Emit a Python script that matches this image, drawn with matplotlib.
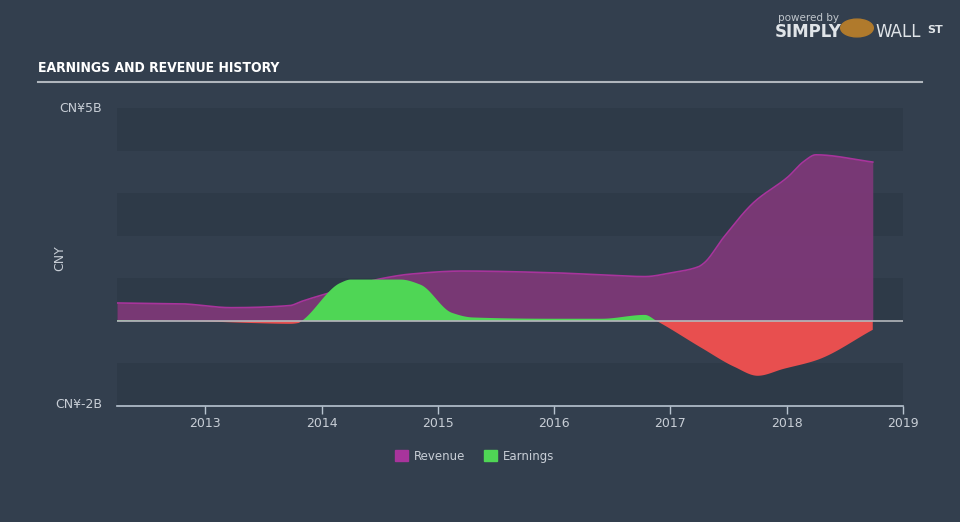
import numpy as np
import matplotlib
matplotlib.use("Agg")
import matplotlib.pyplot as plt
from matplotlib.patches import Patch, Circle

# data (values in CNY billions)
rev_dates = [2012.24, 2012.79, 2013.22, 2013.73, 2013.82, 2014.16, 2014.51, 2014.77,
             2015.21, 2015.98, 2016.41, 2016.78, 2017.01, 2017.24, 2017.29, 2017.46,
             2017.72, 2018.01, 2018.15, 2018.25, 2018.74]
revenue = [0.42, 0.40, 0.31, 0.36, 0.45, 0.73, 0.99, 1.10,
           1.17, 1.13, 1.08, 1.04, 1.13, 1.27, 1.36, 1.97,
           2.79, 3.38, 3.75, 3.90, 3.73]

earn_dates = [2012.24, 2012.95, 2013.39, 2013.73, 2013.80, 2013.83, 2014.16, 2014.25,
              2014.68, 2014.85, 2015.12, 2015.30, 2016.00, 2016.41, 2016.78, 2016.88,
              2017.27, 2017.55, 2017.75, 2017.97, 2018.26, 2018.74]
earnings = [0.02, -0.01, -0.05, -0.07, -0.05, 0.0, 0.89, 0.97,
            0.97, 0.85, 0.19, 0.08, 0.05, 0.05, 0.14, 0.0,
            -0.64, -1.08, -1.29, -1.13, -0.92, -0.21]

year_ticks = [2013, 2014, 2015, 2016, 2017, 2018, 2019]

BG = "#333f4e"
BAND = "#2e3a48"
TXT = "#c8ced6"


def pchip(x, y, xs):
    """Monotone cubic curve through the points (for a smooth outline)."""
    x = np.asarray(x, float)
    y = np.asarray(y, float)
    h = np.diff(x)
    d = np.diff(y) / h
    m = np.zeros_like(y)
    for k in range(1, len(y) - 1):
        if d[k - 1] * d[k] > 0:
            w1 = 2 * h[k] + h[k - 1]
            w2 = h[k] + 2 * h[k - 1]
            m[k] = (w1 + w2) / (w1 / d[k - 1] + w2 / d[k])
    m[0] = d[0]
    m[-1] = d[-1]
    idx = np.clip(np.searchsorted(x, xs) - 1, 0, len(h) - 1)
    t = (xs - x[idx]) / h[idx]
    h00 = 2 * t**3 - 3 * t**2 + 1
    h10 = t**3 - 2 * t**2 + t
    h01 = -2 * t**3 + 3 * t**2
    h11 = t**3 - t**2
    return (h00 * y[idx] + h10 * h[idx] * m[idx] + h01 * y[idx + 1]
            + h11 * h[idx] * m[idx + 1])


fig = plt.figure(figsize=(9.6, 5.22), dpi=100, facecolor=BG)
ax = fig.add_axes([117 / 960, 116 / 522, 786 / 960, 298 / 522])
ax.set_facecolor(BG)

for lo in (4, 2, 0, -2):
    ax.axhspan(lo, lo + 1, color=BAND, lw=0, zorder=0)

t = np.linspace(rev_dates[0], rev_dates[-1], 1200)
r = pchip(rev_dates, revenue, t)
e = pchip(earn_dates, earnings, t)

ax.fill_between(t, 0, r, color="#7a3876", alpha=0.98, lw=0, zorder=2)
ax.plot(t, r, color="#a8349c", lw=1.2, zorder=3)
ax.fill_between(t, 0, e, where=e >= 0, interpolate=True, color="#4fd655", lw=0, zorder=4)
ax.fill_between(t, 0, e, where=e <= 0, interpolate=True, color="#e84f4f", lw=0, zorder=4)

ax.axhline(0, color="#b4b8bc", lw=1.2, zorder=5)

ax.set_xlim(2012.24, 2019.0)
ax.set_ylim(-2, 5)
ax.set_yticks([])
ax.set_xticks(year_ticks)
ax.set_xticklabels([str(y) for y in year_ticks], color=TXT, fontsize=9)
ax.tick_params(axis="x", length=6, color="#b8c4d0", width=1, pad=2)
for side in ("top", "left", "right"):
    ax.spines[side].set_visible(False)
ax.spines["bottom"].set_color("#b8c4d0")
ax.spines["bottom"].set_linewidth(1.2)

fig.text(102 / 960, 1 - 108 / 522, "CN¥5B", color=TXT, fontsize=9, ha="right", va="center")
fig.text(102 / 960, 1 - 405 / 522, "CN¥-2B", color=TXT, fontsize=9, ha="right", va="center")
fig.text(60 / 960, 1 - 258 / 522, "CNY", color=TXT, fontsize=9, rotation=90, ha="center", va="center")

# title and underline
fig.text(38 / 960, 1 - 68 / 522, "EARNINGS AND REVENUE HISTORY", color="white",
         fontsize=10, fontweight="bold", fontstretch="condensed", ha="left", va="center",
         family="DejaVu Sans")
fig.add_artist(plt.Line2D([38 / 960, 922 / 960], [1 - 82 / 522, 1 - 82 / 522],
                          color="#b0b6bd", lw=1.5))

# brand
fig.text(808 / 960, 1 - 18 / 522, "powered by", color="#c0c6cc", fontsize=7.5, ha="center", va="center")
fig.text(808 / 960, 1 - 32 / 522, "SIMPLY", color="#e0e4e8", fontsize=12, fontweight="bold",
         ha="center", va="center")
fig.patches.append(Circle((857 / 960, 1 - 28 / 522), 0.017,
                          transform=fig.transFigure, color="#b07a2c"))
fig.text(898 / 960, 1 - 32 / 522, "WALL", color="#e0e4e8", fontsize=12, ha="center", va="center")
fig.text(935 / 960, 1 - 30 / 522, "ST", color="#e0e4e8", fontsize=8, fontweight="bold",
         ha="center", va="center")

handles = [Patch(color="#a8349c", label="Revenue"), Patch(color="#4fd655", label="Earnings")]
leg = fig.legend(handles=handles, loc="center", bbox_to_anchor=(475 / 960, 1 - 456 / 522), ncol=2,
                 frameon=False, fontsize=8.5, handlelength=1.1, handleheight=1.1,
                 columnspacing=1.6, handletextpad=0.5)
for txt in leg.get_texts():
    txt.set_color(TXT)

fig.savefig("out.png", dpi=100, facecolor=BG)
